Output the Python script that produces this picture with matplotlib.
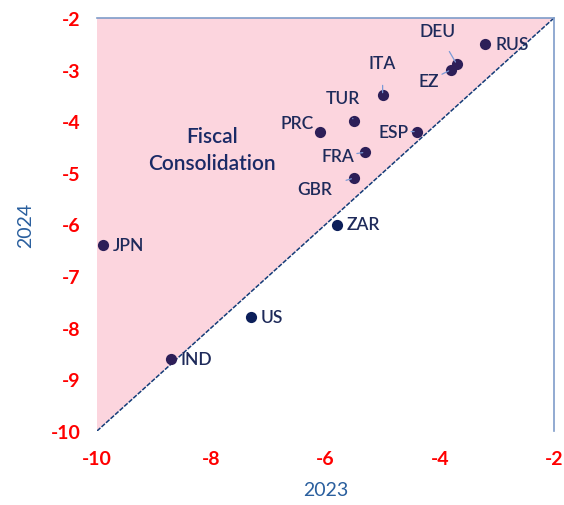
import matplotlib
matplotlib.use("Agg")
import matplotlib.pyplot as plt

plt.rcParams['font.family'] = ['Lato', 'DejaVu Sans']

countries = ["JPN", "IND", "US", "ZAR", "GBR", "FRA", "PRC", "TUR", "ESP", "ITA", "EZ", "DEU", "RUS"]
x2023 = [-9.9, -8.7, -7.3, -5.8, -5.5, -5.3, -6.1, -5.5, -4.4, -5.0, -3.8, -3.7, -3.2]
y2024 = [-6.4, -8.6, -7.8, -6.0, -5.1, -4.6, -4.2, -4.0, -4.2, -3.5, -3.0, -2.9, -2.5]
ticks_x = [-10, -8, -6, -4, -2]
ticks_y = [-10, -9, -8, -7, -6, -5, -4, -3, -2]

# label offsets (points) and whether a leader line is drawn
label_pos = {
    "JPN": (7, 0, 'left', False),
    "IND": (7, 0, 'left', False),
    "US": (7, 0, 'left', False),
    "ZAR": (7, 0, 'left', False),
    "GBR": (-28, -8, 'center', True),
    "FRA": (-20, -3, 'center', True),
    "PRC": (-4, 6, 'right', False),
    "TUR": (-8, 17, 'center', True),
    "ESP": (-17, 0, 'center', True),
    "ITA": (0, 23, 'center', True),
    "EZ": (-16, -8, 'center', True),
    "DEU": (-14, 24, 'center', True),
    "RUS": (7, 0, 'left', False),
}

fig = plt.figure(figsize=(5.64, 5.06), dpi=100)
ax = fig.add_axes([97/564, 1 - 432/506, 457/564, 413/506])
ax.set_xlim(-10, -2)
ax.set_ylim(-10, -2)

ax.fill([-10, -10, -2], [-10, -2, -2], color='#fcd5de', zorder=0, lw=0)
ax.plot([-10, -2], [-10, -2], color='#143c78', lw=1.1, ls=(0, (3, 1)), zorder=1)

navy = '#1e2a5a'
for c, x, y in zip(countries, x2023, y2024):
    col = '#0c1f5a' if c in ("US", "ZAR") else '#2d1f58'
    ax.scatter([x], [y], s=65, color=col, zorder=3, lw=0)
    dx, dy, ha, leader = label_pos[c]
    kw = dict(xytext=(dx, dy), textcoords='offset points', ha=ha, va='center',
              fontsize=12.5, fontweight='semibold', color=navy)
    if leader:
        kw['arrowprops'] = dict(arrowstyle='-', color='#7a9ad6', lw=0.9,
                                shrinkA=8, shrinkB=2)
    ax.annotate(c, (x, y), **kw)

ax.text(-7.98, -4.54, "Fiscal\nConsolidation", ha='center', va='center',
        fontsize=15, fontweight='semibold', color='#1a2a66', linespacing=1.45)

for s in ['left', 'bottom']:
    ax.spines[s].set_visible(False)
for s in ['top', 'right']:
    ax.spines[s].set_color('#7f9cc9')
    ax.spines[s].set_linewidth(1.2)

ax.set_xticks(ticks_x)
ax.set_yticks(ticks_y)
ax.set_xticklabels([str(t) for t in ticks_x], fontweight='bold')
ax.set_yticklabels([str(t) for t in ticks_y], fontweight='bold')
ax.tick_params(length=0, labelsize=14, labelcolor='#ff0000')
ax.tick_params(axis='x', pad=14)
ax.tick_params(axis='y', pad=12)
ax.set_xlabel("2023", fontsize=14, color='#2a5f9e', labelpad=10)
ax.set_ylabel("2024", fontsize=14, color='#2a5f9e', labelpad=12)

fig.savefig("out.png", dpi=100)
